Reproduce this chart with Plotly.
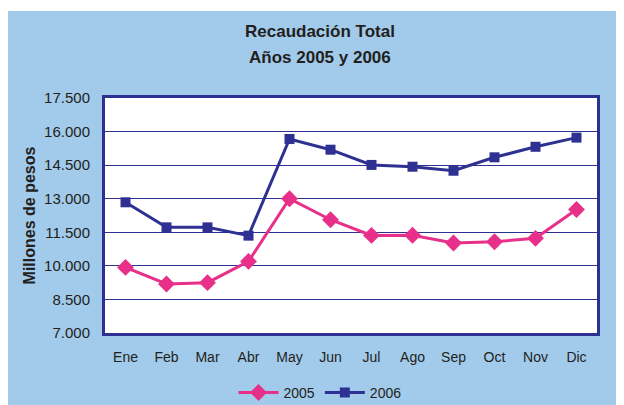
import plotly.graph_objects as go

months = ["Ene", "Feb", "Mar", "Abr", "May", "Jun", "Jul", "Ago", "Sep", "Oct", "Nov", "Dic"]
v2005 = [9930, 9190, 9250, 10200, 13000, 12060, 11360, 11370, 11020, 11080, 11230, 12520]
v2006 = [12840, 11720, 11720, 11350, 15670, 15190, 14510, 14430, 14250, 14850, 15320, 15730]
y_ticks = [7000, 8500, 10000, 11500, 13000, 14500, 16000, 17500]

BG = "#A2CAEA"
NAVY = "#2E3192"
PINK = "#E8308A"
TXT = "#231F20"
FONT = "Liberation Sans, Arial, sans-serif"

fig = go.Figure()
fig.add_trace(go.Scatter(x=months, y=v2005, name="2005", mode="lines+markers",
                         line=dict(color=PINK, width=3),
                         marker=dict(symbol="diamond", size=13, color=PINK)))
fig.add_trace(go.Scatter(x=months, y=v2006, name="2006", mode="lines+markers",
                         line=dict(color=NAVY, width=3),
                         marker=dict(symbol="square", size=10, color=NAVY)))

fig.update_layout(
    width=624, height=405,
    margin=dict(l=97, r=35, t=90, b=80, autoexpand=False),
    paper_bgcolor=BG, plot_bgcolor="white",
    separators=",.",
    font=dict(family=FONT, size=14, color=TXT),
    showlegend=True,
    legend=dict(orientation="h", x=0.437, xanchor="center", y=-0.255, yanchor="middle",
                bgcolor="rgba(0,0,0,0)", font=dict(size=14, color=TXT), itemwidth=40),
    annotations=[
        dict(text="<b>Recaudación Total</b>", xref="paper", yref="paper", x=0.437, y=1.281,
             xanchor="center", yanchor="middle", showarrow=False, font=dict(size=17, color=TXT)),
        dict(text="<b>Años 2005 y 2006</b>", xref="paper", yref="paper", x=0.437, y=1.174,
             xanchor="center", yanchor="middle", showarrow=False, font=dict(size=17, color=TXT)),
    ],
    shapes=[
        dict(type="rect", xref="paper", yref="paper", x0=-0.25, x1=1.2, y0=1.37, y1=1.6,
             fillcolor="white", line=dict(width=0), layer="above"),
    ],
)
fig.update_xaxes(type="category", range=[-0.5, 11.5], showgrid=False,
                 showline=True, mirror=True, linecolor=NAVY, linewidth=3,
                 ticks="outside", ticklen=9, tickcolor="rgba(0,0,0,0)",
                 tickfont=dict(size=14, color=TXT))
fig.update_yaxes(range=[7000, 17500], tickvals=y_ticks, tickformat=",.0f",
                 showgrid=True, gridcolor=NAVY, gridwidth=1, zeroline=False,
                 showline=True, mirror=True, linecolor=NAVY, linewidth=3,
                 ticks="outside", ticklen=9, tickcolor="rgba(0,0,0,0)",
                 tickfont=dict(size=15, color=TXT),
                 title=dict(text="<b>Millones de pesos</b>", font=dict(size=16, color=TXT), standoff=5))

fig.write_html("out.html")
